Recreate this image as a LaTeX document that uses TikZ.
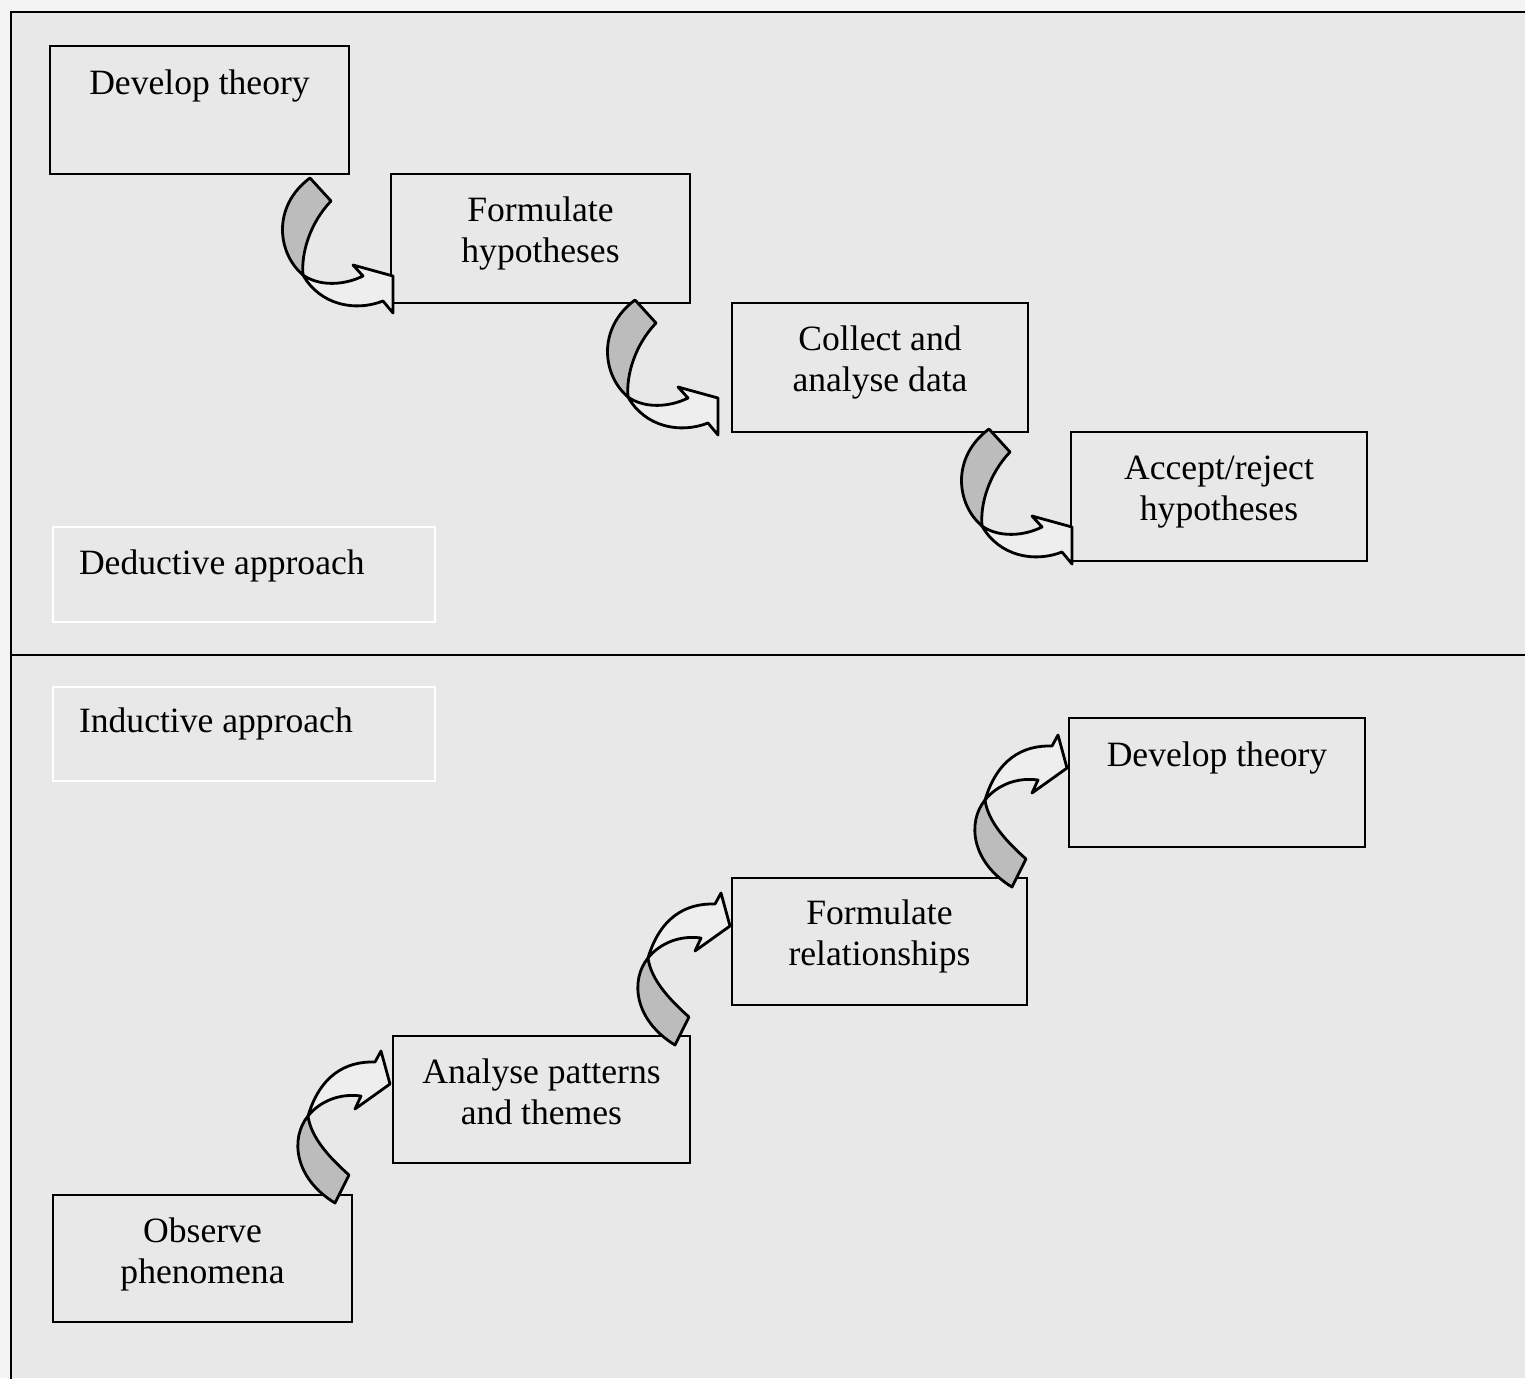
\documentclass[tikz,border=0pt]{standalone}
\usepackage{fontspec}
\setmainfont{Liberation Serif}
\usetikzlibrary{calc,fit}
\definecolor{bgout}{HTML}{F4F4F4}
\definecolor{bgin}{HTML}{E8E8E8}
\definecolor{arrgray}{HTML}{BCBCBC}
\definecolor{arrwhite}{HTML}{EEEEEE}
\tikzset{
  box/.style={draw=black, line width=1.4pt, fill=bgin, inner sep=0pt},
  lblbox/.style={draw=white, line width=1.4pt, inner sep=0pt},
  txt/.style={font=\fontsize{17.8}{20.5}\selectfont, align=center, inner sep=0pt, anchor=north},
  ltxt/.style={font=\fontsize{17.8}{20.5}\selectfont, inner sep=0pt, anchor=base west},
  arrline/.style={draw=black, line width=1.4pt, line join=round},
  frame/.style={draw=black, line width=1.4pt},
}
\newcommand\dedarr[1]{%
  \begin{scope}[shift={#1}]
    \filldraw[arrline, fill=arrgray] (0,0) -- (21,23) .. controls (0,45) and (-9,75) .. (-7,97)
      .. controls (-33,75) and (-38,28) .. (0,0) -- cycle;
    \filldraw[arrline, fill=arrwhite] (-7,97) .. controls (10,109) and (35,107) .. (53,98)
      -- (43,87) -- (83,98) -- (83,135) -- (73,123)
      .. controls (45,134) and (10,127) .. (-7,97) -- cycle;
  \end{scope}}
\newcommand\indarr[1]{%
  \begin{scope}[shift={#1}]
    \filldraw[arrline, fill=arrgray] (0,0) -- (14,-28) .. controls (-5,-45) and (-24,-65) .. (-27,-87)
      .. controls (-45,-65) and (-41,-25) .. (0,0) -- cycle;
    \filldraw[arrline, fill=arrwhite] (-27,-87) .. controls (-15,-127) and (10,-142) .. (40,-141)
      -- (46,-152) -- (55,-119) -- (20,-94) -- (26,-107)
      .. controls (5,-110) and (-15,-102) .. (-27,-87) -- cycle;
  \end{scope}}
\begin{document}
\begin{tikzpicture}[x=0.5pt, y=-0.5pt]
  \useasboundingbox (0,0) rectangle (1525,1378);
  \fill[bgout] (0,0) rectangle (1525,1378);
  \fill[bgin] (11,12) rectangle (1525,1378);
  % frame
  \coordinate (ftl) at (11,12);
  \coordinate (ftr) at (1530,12);
  \coordinate (fbl) at (11,1385);
  \coordinate (fml) at (11,655);
  \coordinate (fmr) at (1530,655);
  \draw[frame] (ftr) -- (ftl) -- (fbl);
  \draw[frame] (fml) -- (fmr);

  % deductive boxes
  \node[box, fit={(50,46) (349,174)}] (d1) {};
  \node[box, fit={(391,174) (690,303)}] (d2) {};
  \node[box, fit={(732,303) (1028,432)}] (d3) {};
  \node[box, fit={(1071,432) (1367,561)}] (d4) {};
  \node[txt] at ($(d1.north)+(0,21)$) {\strut Develop theory};
  \node[txt] at ($(d2.north)+(0,20)$) {\strut Formulate\\hypotheses};
  \node[txt] at ($(d3.north)+(0,20)$) {\strut Collect and\\analyse data};
  \node[txt] at ($(d4.north)+(0,20)$) {\strut Accept/reject\\hypotheses};

  \node[lblbox, fit={(53,527) (435,622)}] (dl) {};
  \node[ltxt] at ($(dl.north west)+(27,49)$) {Deductive approach};
  \node[lblbox, fit={(53,687) (435,781)}] (il) {};
  \node[ltxt] at ($(il.north west)+(27,47)$) {Inductive approach};

  % inductive boxes
  \node[box, fit={(1069,718) (1365,847)}] (i4) {};
  \node[box, fit={(732,878) (1027,1005)}] (i3) {};
  \node[box, fit={(393,1036) (690,1163)}] (i2) {};
  \node[box, fit={(53,1195) (352,1322)}] (i1) {};
  \node[txt] at ($(i4.north)+(0,21)$) {\strut Develop theory};
  \node[txt] at ($(i3.north)+(0,19)$) {\strut Formulate\\relationships};
  \node[txt] at ($(i2.north)+(0,20)$) {\strut Analyse patterns\\and themes};
  \node[txt] at ($(i1.north)+(0,20)$) {\strut Observe\\phenomena};

  % curved arrows
  \dedarr{(310,178)}
  \dedarr{(635,300)}
  \dedarr{(989,429)}
  \indarr{(335,1203)}
  \indarr{(675,1045)}
  \indarr{(1012,887)}
\end{tikzpicture}
\end{document}
